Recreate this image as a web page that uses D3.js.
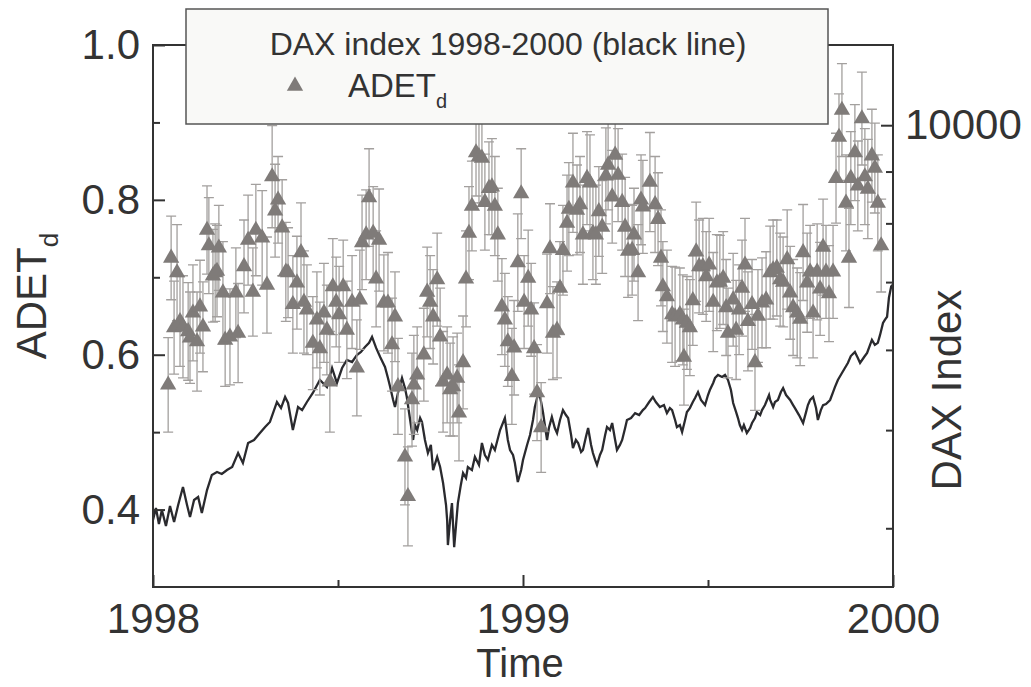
<!DOCTYPE html>
<html><head><meta charset="utf-8">
<script src="https://cdn.jsdelivr.net/npm/d3@7"></script>
<style>
body{margin:0;background:#fff}
svg{display:block}
text{font-family:"Liberation Sans",Arial,Helvetica,sans-serif;fill:#333}
</style>
</head><body>
<svg id="chart" width="1031" height="687"></svg>
<script>
// ---------- data ----------
const leftMajorTicks = [0.4, 0.6, 0.8, 1.0];
const leftMinorTicks = [0.5, 0.7, 0.9];
const rightMajorTicks = [10000];
const rightMinorTicks = [4000, 5000, 6000, 7000, 8000, 9000];
const timeMajorTicks = [1998, 1999, 2000];
const timeMinorTicks = [1998.5, 1999.5];
const legendTitle = "DAX index 1998-2000 (black line)";
const seriesName = "ADET";
const seriesSub = "d";

const adetTime = [
1998.041,1998.049,1998.057,1998.065,1998.073,1998.081,1998.095,1998.100,1998.108,1998.119,
1998.127,1998.135,1998.146,1998.151,1998.162,1998.168,1998.173,1998.178,1998.189,1998.195,
1998.208,1998.224,1998.230,1998.246,1998.257,1998.270,1998.278,1998.295,1998.308,1998.322,
1998.330,1998.338,1998.349,1998.359,1998.365,1998.378,1998.389,1998.400,1998.408,1998.416,
1998.432,1998.443,1998.451,1998.462,1998.470,1998.478,1998.486,1998.495,1998.503,1998.514,
1998.524,1998.538,1998.551,1998.559,1998.565,1998.576,1998.584,1998.595,1998.603,1998.611,
1998.624,1998.635,1998.646,1998.654,1998.662,1998.681,1998.689,1998.700,1998.705,1998.714,
1998.732,1998.741,1998.749,1998.757,1998.768,1998.776,1998.784,1998.795,1998.803,1998.811,
1998.822,1998.827,1998.838,1998.846,1998.854,1998.862,1998.873,1998.881,1998.889,1998.897,
1998.908,1998.916,1998.924,1998.932,1998.943,1998.951,1998.959,1998.970,1998.976,1998.986,
1998.995,1999.003,1999.014,1999.022,1999.030,1999.038,1999.049,1999.065,1999.073,1999.081,
1999.092,1999.100,1999.108,1999.119,1999.124,1999.135,1999.146,1999.154,1999.162,1999.173,
1999.181,1999.189,1999.197,1999.205,1999.214,1999.224,1999.230,1999.241,1999.249,1999.257,
1999.268,1999.276,1999.284,1999.295,1999.300,1999.311,1999.319,1999.324,1999.343,1999.357,
1999.365,1999.373,1999.378,1999.389,1999.403,1999.411,1999.424,1999.432,1999.435,1999.443,
1999.451,1999.459,1999.468,1999.476,1999.486,1999.495,1999.503,1999.514,1999.524,1999.532,
1999.541,1999.549,1999.554,1999.568,1999.576,1999.584,1999.592,1999.600,1999.608,1999.619,
1999.627,1999.635,1999.646,1999.657,1999.668,1999.676,1999.686,1999.695,1999.703,1999.714,
1999.722,1999.730,1999.741,1999.749,1999.757,1999.768,1999.776,1999.784,1999.795,1999.803,
1999.811,1999.819,1999.827,1999.838,1999.846,1999.854,1999.862,1999.873,1999.881,1999.886,
1999.897,1999.905,1999.916,1999.924,1999.932,1999.943,1999.951,1999.959,1999.968
];
const adetValue = [
0.561,0.725,0.635,0.706,0.643,0.636,0.630,0.622,0.654,0.617,
0.662,0.636,0.761,0.741,0.702,0.706,0.708,0.738,0.680,0.619,
0.623,0.680,0.628,0.714,0.748,0.681,0.761,0.751,0.690,0.830,
0.786,0.800,0.764,0.707,0.706,0.665,0.693,0.732,0.668,0.658,
0.615,0.645,0.608,0.654,0.632,0.565,0.688,0.668,0.652,0.688,
0.632,0.668,0.583,0.671,0.745,0.755,0.803,0.757,0.698,0.748,
0.667,0.667,0.613,0.649,0.559,0.468,0.417,0.542,0.561,0.574,
0.600,0.681,0.668,0.649,0.697,0.623,0.565,0.574,0.555,0.559,
0.570,0.525,0.590,0.698,0.757,0.792,0.861,0.856,0.854,0.797,
0.815,0.817,0.792,0.755,0.662,0.645,0.617,0.572,0.609,0.719,
0.808,0.668,0.699,0.658,0.608,0.551,0.506,0.666,0.737,0.628,
0.632,0.686,0.735,0.770,0.788,0.822,0.787,0.794,0.755,0.828,
0.822,0.757,0.755,0.785,0.765,0.831,0.845,0.804,0.858,0.832,
0.797,0.765,0.734,0.735,0.755,0.706,0.800,0.791,0.823,0.794,
0.775,0.725,0.688,0.675,0.652,0.649,0.652,0.645,0.597,0.641,
0.635,0.670,0.733,0.714,0.714,0.701,0.716,0.668,0.693,0.694,
0.699,0.661,0.628,0.671,0.632,0.658,0.686,0.716,0.643,0.665,
0.590,0.650,0.667,0.671,0.706,0.710,0.712,0.697,0.694,0.723,
0.680,0.661,0.654,0.646,0.732,0.693,0.707,0.654,0.707,0.685,
0.739,0.707,0.679,0.707,0.828,0.881,0.916,0.796,0.725,0.828,
0.861,0.818,0.905,0.830,0.814,0.857,0.841,0.796,0.741
];
const adetErr = [
0.061,0.054,0.060,0.062,0.058,0.066,0.063,0.059,0.062,0.064,
0.060,0.058,0.057,0.062,0.060,0.063,0.059,0.055,0.066,0.060,
0.062,0.058,0.064,0.060,0.058,0.057,0.059,0.061,0.062,0.066,
0.060,0.056,0.062,0.064,0.058,0.063,0.060,0.064,0.066,0.058,
0.060,0.062,0.060,0.064,0.058,0.065,0.062,0.058,0.062,0.060,
0.063,0.060,0.062,0.064,0.061,0.058,0.063,0.060,0.062,0.066,
0.062,0.065,0.060,0.058,0.062,0.062,0.064,0.060,0.064,0.062,
0.060,0.058,0.060,0.061,0.060,0.063,0.065,0.062,0.060,0.064,
0.058,0.062,0.060,0.062,0.060,0.058,0.056,0.060,0.058,0.062,
0.060,0.062,0.064,0.060,0.062,0.060,0.058,0.062,0.061,0.063,
0.058,0.060,0.062,0.060,0.059,0.062,0.058,0.064,0.058,0.060,
0.062,0.060,0.058,0.062,0.060,0.064,0.058,0.062,0.064,0.060,
0.062,0.060,0.064,0.058,0.060,0.062,0.058,0.060,0.056,0.060,
0.062,0.064,0.060,0.058,0.060,0.062,0.058,0.060,0.064,0.062,
0.060,0.062,0.058,0.060,0.062,0.064,0.060,0.058,0.062,0.060,
0.062,0.058,0.064,0.060,0.062,0.058,0.060,0.064,0.062,0.060,
0.060,0.062,0.058,0.060,0.064,0.058,0.062,0.060,0.064,0.058,
0.062,0.060,0.058,0.062,0.060,0.064,0.062,0.060,0.058,0.064,
0.060,0.062,0.058,0.060,0.062,0.064,0.060,0.058,0.062,0.060,
0.062,0.060,0.062,0.060,0.058,0.056,0.060,0.062,0.064,0.060,
0.062,0.058,0.060,0.062,0.064,0.060,0.058,0.062,0.060
];

const daxTime = [
1998.000,1998.008,1998.016,1998.024,1998.035,1998.046,1998.057,1998.068,1998.081,1998.092,
1998.100,1998.111,1998.122,1998.132,1998.146,1998.159,1998.173,1998.186,1998.200,1998.214,
1998.230,1998.243,1998.257,1998.273,1998.289,1998.303,1998.316,1998.335,1998.346,1998.357,
1998.365,1998.378,1998.392,1998.403,1998.416,1998.432,1998.451,1998.470,1998.484,1998.497,
1998.511,1998.524,1998.538,1998.551,1998.562,1998.573,1998.584,1998.592,1998.603,1998.614,
1998.627,1998.635,1998.641,1998.649,1998.654,1998.662,1998.673,1998.681,1998.686,1998.695,
1998.703,1998.708,1998.714,1998.722,1998.727,1998.735,1998.743,1998.751,1998.757,1998.768,
1998.776,1998.784,1998.792,1998.795,1998.797,1998.803,1998.808,1998.814,1998.819,1998.824,
1998.832,1998.838,1998.846,1998.851,1998.862,1998.870,1998.881,1998.889,1998.897,1998.905,
1998.916,1998.924,1998.938,1998.951,1998.959,1998.965,1998.973,1998.978,1998.986,1998.995,
1999.000,1999.011,1999.019,1999.027,1999.032,1999.038,1999.043,1999.049,1999.054,1999.059,
1999.065,1999.070,1999.078,1999.086,1999.092,1999.100,1999.108,1999.116,1999.122,1999.130,
1999.135,1999.143,1999.149,1999.157,1999.162,1999.170,1999.176,1999.184,1999.189,1999.195,
1999.200,1999.208,1999.214,1999.222,1999.227,1999.235,1999.241,1999.249,1999.254,1999.262,
1999.268,1999.276,1999.281,1999.292,1999.303,1999.314,1999.324,1999.330,1999.341,1999.351,
1999.359,1999.370,1999.381,1999.389,1999.397,1999.403,1999.411,1999.416,1999.424,1999.430,
1999.438,1999.443,1999.451,1999.459,1999.465,1999.473,1999.481,1999.492,1999.500,1999.505,
1999.514,1999.519,1999.527,1999.538,1999.546,1999.554,1999.562,1999.568,1999.576,1999.581,
1999.586,1999.592,1999.597,1999.605,1999.614,1999.619,1999.627,1999.632,1999.641,1999.646,
1999.654,1999.665,1999.668,1999.676,1999.681,1999.689,1999.697,1999.703,1999.711,1999.722,
1999.730,1999.735,1999.746,1999.757,1999.765,1999.770,1999.776,1999.784,1999.792,1999.797,
1999.805,1999.811,1999.819,1999.830,1999.838,1999.843,1999.851,1999.862,1999.870,1999.878,
1999.886,1999.897,1999.905,1999.911,1999.922,1999.930,1999.938,1999.943,1999.951,1999.959,
1999.965,1999.973,1999.978,1999.984,1999.989,1999.995,1999.998
];
const daxValue = [
4075,4188,4039,4169,4020,4207,4057,4217,4393,4217,
4103,4265,4294,4141,4363,4515,4546,4525,4566,4598,
4746,4640,4856,4889,4967,5035,5093,5330,5257,5391,
5318,5001,5269,5233,5330,5440,5603,5514,5758,5565,
5758,5864,5837,5931,5972,6041,6097,6180,6027,5904,
5771,5629,5514,5354,5269,5440,5629,5502,5391,5116,
4889,5058,5001,5139,5093,4889,4746,4834,4566,4704,
4598,4433,4217,4075,3850,4075,4236,3832,4029,4236,
4414,4535,4484,4598,4566,4704,4619,4856,4725,4672,
4834,4779,5001,5139,4889,4779,4725,4640,4443,4566,
4672,4834,4945,5116,5269,5378,5452,5330,5209,5058,
4889,5024,5151,5024,4967,5116,5233,5174,5139,4945,
4800,4889,4856,4757,4779,4922,5024,4834,4746,4672,
4619,4725,4779,4945,5035,5001,5081,4889,4779,4834,
4889,5024,5116,5139,5197,5174,5233,5257,5330,5391,
5330,5269,5293,5197,5257,5233,5116,5035,5058,4978,
5116,5209,5257,5330,5378,5452,5354,5293,5415,5477,
5565,5629,5668,5642,5668,5603,5477,5318,5209,5139,
5058,5001,5058,4967,5024,5081,5139,5209,5174,5233,
5293,5415,5354,5269,5330,5354,5452,5502,5415,5354,
5293,5257,5174,5081,5209,5293,5354,5391,5257,5116,
5233,5293,5306,5354,5452,5514,5603,5693,5758,5824,
5917,5972,5891,5824,5904,5958,6069,6138,6069,6097,
6208,6379,6425,6470,6755,6927,6957
];

// ---------- layout ----------
const svg = d3.select("#chart");
const L = 153, R = 893, T = 45, B = 587;
const x = d3.scaleLinear().domain([1998, 2000]).range([L, R]);
const yL = d3.scaleLinear().domain([0.3, 1.0]).range([B, T]);
const yR = d3.scaleLog().domain([3500, 12000]).range([B, T]);

const axisColor = "#333";
const tickFont = 42;

svg.append("defs").append("clipPath").attr("id", "plot")
  .append("rect").attr("x", L).attr("y", T).attr("width", R - L).attr("height", B - T);

const plot = svg.append("g").attr("clip-path", "url(#plot)");

// DAX line
const dax = daxTime.map((t, i) => ({t, v: daxValue[i]}));
plot.append("path")
  .datum(dax)
  .attr("fill", "none")
  .attr("stroke", "#2a2a2e")
  .attr("stroke-width", 2.3)
  .attr("stroke-linejoin", "miter")
  .attr("d", d3.line().x(d => x(d.t)).y(d => yR(d.v)));

// ADET error bars + triangles
const adet = adetTime.map((t, i) => ({t, v: adetValue[i], e: adetErr[i]}));
const eb = plot.append("g").attr("stroke", "#a3a09e").attr("stroke-width", 1.3).attr("fill", "none");
const cap = 5;
eb.selectAll("path").data(adet).join("path")
  .attr("d", d => {
    const cx = x(d.t), y1 = yL(d.v + d.e), y2 = yL(d.v - d.e);
    return `M${cx},${y1}V${y2}M${cx - cap},${y1}H${cx + cap}M${cx - cap},${y2}H${cx + cap}`;
  });

const tri = d3.symbol().type(d3.symbolTriangle).size(115);
plot.append("g").selectAll("path").data(adet).join("path")
  .attr("d", tri)
  .attr("fill", "#7f7b79")
  .attr("transform", d => `translate(${x(d.t)},${yL(d.v)})`);

// ---------- axes ----------
function styleAxis(g) {
  g.select(".domain").remove();
  g.selectAll(".tick line").attr("stroke", axisColor).attr("stroke-width", 2);
  g.selectAll(".tick text").attr("font-size", tickFont).attr("fill", axisColor)
    .attr("font-family", '"Liberation Sans", Arial, sans-serif');
}

svg.append("g").attr("transform", `translate(${L},0)`)
  .call(d3.axisLeft(yL).tickValues(leftMajorTicks).tickSizeInner(-12).tickSizeOuter(0)
    .tickPadding(13).tickFormat(d3.format(".1f")))
  .call(styleAxis);
svg.append("g").attr("transform", `translate(${L},0)`)
  .call(d3.axisLeft(yL).tickValues(leftMinorTicks).tickSizeInner(-7).tickSizeOuter(0).tickFormat(""))
  .call(styleAxis);

svg.append("g").attr("transform", `translate(${R},0)`)
  .call(d3.axisRight(yR).tickValues(rightMajorTicks).tickSizeInner(-12).tickSizeOuter(0)
    .tickPadding(12).tickFormat(d3.format("d")))
  .call(styleAxis);
svg.append("g").attr("transform", `translate(${R},0)`)
  .call(d3.axisRight(yR).tickValues(rightMinorTicks).tickSizeInner(-7).tickSizeOuter(0).tickFormat(""))
  .call(styleAxis);

svg.append("g").attr("transform", `translate(0,${B})`)
  .call(d3.axisBottom(x).tickValues(timeMajorTicks).tickSizeInner(-12).tickSizeOuter(0)
    .tickPadding(16).tickFormat(d3.format("d")))
  .call(styleAxis);
svg.append("g").attr("transform", `translate(0,${B})`)
  .call(d3.axisBottom(x).tickValues(timeMinorTicks).tickSizeInner(-7).tickSizeOuter(0).tickFormat(""))
  .call(styleAxis);

// frame
svg.append("rect").attr("x", L).attr("y", T).attr("width", R - L).attr("height", B - T)
  .attr("fill", "none").attr("stroke", axisColor).attr("stroke-width", 2);

// axis titles
svg.append("text").attr("x", 520).attr("y", 677).attr("text-anchor", "middle")
  .attr("font-size", 40).text("Time");

const yt = svg.append("text").attr("transform", "translate(46,296) rotate(-90)")
  .attr("text-anchor", "middle").attr("font-size", 42);
yt.append("tspan").text(seriesName);
yt.append("tspan").attr("font-size", 26).attr("dy", 12).text(seriesSub);

svg.append("text").attr("transform", "translate(961,390) rotate(-90)")
  .attr("text-anchor", "middle").attr("font-size", 42).text("DAX Index");

// ---------- legend ----------
const lg = svg.append("g");
lg.append("rect").attr("x", 186).attr("y", 9).attr("width", 642).attr("height", 115)
  .attr("fill", "#f9f9f7").attr("stroke", "#555").attr("stroke-width", 1.5);
lg.append("text").attr("x", 508).attr("y", 55).attr("text-anchor", "middle")
  .attr("font-size", 32).text(legendTitle);
lg.append("path").attr("d", tri).attr("fill", "#7f7b79")
  .attr("transform", "translate(295,86)");
const lt = lg.append("text").attr("x", 348).attr("y", 97).attr("font-size", 33);
lt.append("tspan").text(seriesName);
lt.append("tspan").attr("font-size", 20).attr("dy", 11).text(seriesSub);
</script>
</body></html>
